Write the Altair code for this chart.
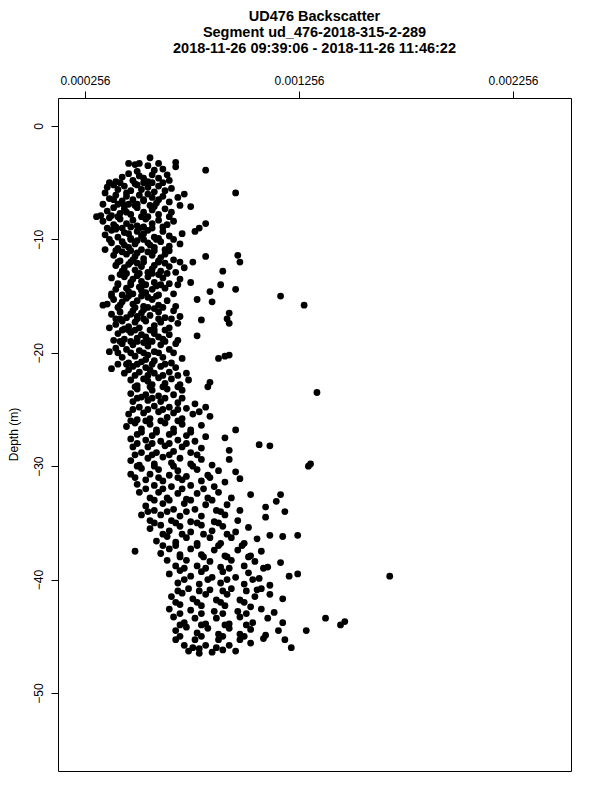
import altair as alt
import pandas as pd

title_lines = [
    "UD476 Backscatter",
    "Segment ud_476-2018-315-2-289",
    "2018-11-26 09:39:06 - 2018-11-26 11:46:22",
]
x_ticks = [0.000256, 0.001256, 0.002256]
y_ticks = [0, -10, -20, -30, -40, -50]

backscatter = [
    0.00056, 0.00046, 0.00049, 0.00051, 0.00055, 0.00060, 0.00068, 0.00068, 0.00082, 0.00062, 0.00058,
    0.00043, 0.00046, 0.00050, 0.00053, 0.00057, 0.00060, 0.00064, 0.00065, 0.00040, 0.00048, 0.00055, 0.00051,
    0.00036, 0.00039, 0.00041, 0.00044, 0.00047, 0.00050, 0.00052, 0.00055, 0.00058, 0.00060, 0.00063, 0.00066, 0.00096, 0.00035, 0.00045, 0.00042, 0.00049, 0.00057,
    0.00037, 0.00040, 0.00043, 0.00045, 0.00048, 0.00051, 0.00053, 0.00057, 0.00059, 0.00062, 0.00065, 0.00069, 0.00072, 0.00034, 0.00050, 0.00041, 0.00046, 0.00055,
    0.00033, 0.00036, 0.00039, 0.00042, 0.00044, 0.00047, 0.00050, 0.00053, 0.00057, 0.00060, 0.00063, 0.00066, 0.00075, 0.00031, 0.00038, 0.00045, 0.00052, 0.00058,
    0.00034, 0.00037, 0.00039, 0.00042, 0.00045, 0.00048, 0.00050, 0.00054, 0.00057, 0.00060, 0.00064, 0.00067, 0.00082, 0.00079, 0.00040, 0.00047, 0.00053, 0.00062,
    0.00035, 0.00038, 0.00041, 0.00044, 0.00047, 0.00050, 0.00052, 0.00055, 0.00058, 0.00062, 0.00065, 0.00071, 0.00077, 0.00040, 0.00046, 0.00053, 0.00060,
    0.00038, 0.00041, 0.00043, 0.00046, 0.00049, 0.00052, 0.00055, 0.00058, 0.00061, 0.00065, 0.00070, 0.00040, 0.00035, 0.00044, 0.00050, 0.00056, 0.00063,
    0.00039, 0.00042, 0.00045, 0.00048, 0.00050, 0.00053, 0.00057, 0.00060, 0.00063, 0.00067, 0.00097, 0.00082, 0.00076, 0.00043, 0.00049, 0.00055, 0.00061,
    0.00040, 0.00043, 0.00046, 0.00049, 0.00052, 0.00055, 0.00058, 0.00061, 0.00065, 0.00068, 0.00098, 0.00090, 0.00072, 0.00044, 0.00050, 0.00057, 0.00063,
    0.00038, 0.00041, 0.00044, 0.00047, 0.00050, 0.00052, 0.00055, 0.00058, 0.00062, 0.00065, 0.00070, 0.00089, 0.00075, 0.00042, 0.00048, 0.00054, 0.00060,
    0.00040, 0.00043, 0.00045, 0.00048, 0.00051, 0.00054, 0.00057, 0.00060, 0.00063, 0.00067, 0.00096, 0.00084, 0.00046, 0.00052, 0.00059, 0.00038,
    0.00036, 0.00039, 0.00042, 0.00045, 0.00048, 0.00050, 0.00053, 0.00057, 0.00060, 0.00064, 0.00068, 0.00117, 0.00128, 0.00078, 0.00085, 0.00043, 0.00055, 0.00034,
    0.00042, 0.00045, 0.00048, 0.00050, 0.00053, 0.00056, 0.00060, 0.00063, 0.00067, 0.00070, 0.00093, 0.00092, 0.00038, 0.00047, 0.00052, 0.00058, 0.00040,
    0.00040, 0.00043, 0.00046, 0.00049, 0.00051, 0.00054, 0.00058, 0.00061, 0.00065, 0.00069, 0.00093, 0.00080, 0.00044, 0.00050, 0.00056, 0.00037,
    0.00041, 0.00044, 0.00047, 0.00050, 0.00052, 0.00055, 0.00058, 0.00062, 0.00065, 0.00069, 0.00078, 0.00039, 0.00049, 0.00054, 0.00060,
    0.00040, 0.00043, 0.00045, 0.00048, 0.00051, 0.00055, 0.00058, 0.00061, 0.00065, 0.00068, 0.00037, 0.00047, 0.00053,
    0.00043, 0.00046, 0.00049, 0.00052, 0.00055, 0.00058, 0.00062, 0.00066, 0.00071, 0.00091, 0.00093, 0.00088, 0.00041, 0.00054,
    0.00038, 0.00044, 0.00048, 0.00051, 0.00054, 0.00058, 0.00061, 0.00065, 0.00068, 0.00073, 0.00046, 0.00056,
    0.00047, 0.00050, 0.00053, 0.00057, 0.00060, 0.00063, 0.00066, 0.00070, 0.00074, 0.00084, 0.00055,
    0.00047, 0.00050, 0.00054, 0.00057, 0.00060, 0.00064, 0.00067, 0.00071, 0.00083, 0.00134, 0.00052,
    0.00048, 0.00051, 0.00055, 0.00058, 0.00061, 0.00065, 0.00069, 0.00073, 0.00077, 0.00082,
    0.00046, 0.00050, 0.00053, 0.00056, 0.00060, 0.00064, 0.00067, 0.00071, 0.00076, 0.00084, 0.00079,
    0.00045, 0.00049, 0.00052, 0.00056, 0.00059, 0.00063, 0.00067, 0.00071, 0.00075, 0.00080, 0.00096,
    0.00047, 0.00050, 0.00054, 0.00057, 0.00061, 0.00065, 0.00069, 0.00073, 0.00077, 0.00082, 0.00091,
    0.00048, 0.00052, 0.00055, 0.00059, 0.00063, 0.00067, 0.00071, 0.00075, 0.00080, 0.00107, 0.00112, 0.00093,
    0.00047, 0.00051, 0.00055, 0.00058, 0.00062, 0.00066, 0.00070, 0.00075, 0.00080, 0.00085, 0.00093, 0.00131, 0.00130,
    0.00047, 0.00052, 0.00056, 0.00060, 0.00065, 0.00069, 0.00073, 0.00078, 0.00083, 0.00088, 0.00096,
    0.00050, 0.00054, 0.00058, 0.00062, 0.00066, 0.00071, 0.00075, 0.00080, 0.00086, 0.00091, 0.00098,
    0.00051, 0.00056, 0.00060, 0.00064, 0.00069, 0.00073, 0.00078, 0.00083, 0.00088, 0.00094, 0.00103, 0.00117,
    0.00054, 0.00058, 0.00062, 0.00067, 0.00072, 0.00077, 0.00082, 0.00087, 0.00092, 0.00098, 0.00110, 0.00115,
    0.00052, 0.00056, 0.00061, 0.00066, 0.00070, 0.00075, 0.00080, 0.00086, 0.00091, 0.00097, 0.00110, 0.00119,
    0.00056, 0.00061, 0.00065, 0.00070, 0.00075, 0.00080, 0.00085, 0.00090, 0.00096, 0.00102,
    0.00059, 0.00064, 0.00068, 0.00073, 0.00078, 0.00084, 0.00089, 0.00094, 0.00100, 0.00106, 0.00112, 0.00118, 0.00125, 0.00062,
    0.00049, 0.00061, 0.00065, 0.00070, 0.00075, 0.00080, 0.00086, 0.00091, 0.00097, 0.00103, 0.00108,
    0.00064, 0.00068, 0.00073, 0.00078, 0.00084, 0.00089, 0.00094, 0.00100, 0.00105, 0.00117, 0.00111,
    0.00065, 0.00070, 0.00075, 0.00080, 0.00085, 0.00090, 0.00096, 0.00102, 0.00107, 0.00121, 0.00125, 0.00168,
    0.00069, 0.00074, 0.00079, 0.00084, 0.00089, 0.00094, 0.00100, 0.00106, 0.00112, 0.00108,
    0.00066, 0.00071, 0.00076, 0.00082, 0.00087, 0.00092, 0.00098, 0.00105, 0.00112, 0.00118,
    0.00065, 0.00070, 0.00075, 0.00080, 0.00086, 0.00091, 0.00097, 0.00103, 0.00108, 0.00114,
    0.00067, 0.00072, 0.00077, 0.00082, 0.00087, 0.00093, 0.00098, 0.00104, 0.00111, 0.00118, 0.00138, 0.00147, 0.00145,
    0.00068, 0.00073, 0.00078, 0.00083, 0.00088, 0.00093, 0.00098, 0.00103, 0.00110, 0.00116, 0.00129,
    0.00068, 0.00072, 0.00077, 0.00082, 0.00088, 0.00093, 0.00098, 0.00103, 0.00109, 0.00119, 0.00122,
    0.00074, 0.00079, 0.00085, 0.00090, 0.00096, 0.00079,
]

depth = [
    -2.8, -3.3, -3.4, -3.3, -3.5, -3.3, -3.2, -3.6, -3.9, -3.8, -3.9,
    -4.5, -4.2, -4.0, -4.6, -4.3, -4.6, -4.3, -4.8, -4.9, -4.8, -4.9, -4.4,
    -5.4, -5.2, -5.6, -5.3, -5.7, -5.2, -5.6, -5.4, -5.8, -5.3, -5.7, -5.5, -5.9, -5.9, -5.9, -5.0, -5.1, -5.0,
    -6.4, -6.1, -6.6, -6.2, -6.5, -6.1, -6.6, -6.3, -6.8, -6.2, -6.7, -6.3, -6.0, -6.9, -6.9, -6.9, -6.9, -6.0,
    -7.9, -7.5, -7.2, -7.7, -7.3, -7.8, -7.2, -7.6, -7.4, -7.8, -7.3, -7.6, -7.1, -8.0, -7.9, -7.6, -8.0, -7.1,
    -8.4, -8.1, -8.7, -8.2, -8.6, -8.3, -8.8, -8.2, -8.6, -8.3, -8.7, -8.4, -8.6, -9.0, -8.9, -8.9, -8.9, -8.9,
    -9.6, -9.2, -9.8, -9.4, -9.9, -9.3, -9.7, -9.2, -9.8, -9.3, -9.7, -9.5, -9.3, -9.1, -9.5, -9.5, -9.9,
    -10.3, -10.8, -10.2, -10.7, -10.4, -10.9, -10.3, -10.7, -10.2, -10.6, -10.4, -11.0, -10.9, -10.5, -10.1, -10.5, -10.9,
    -11.4, -11.9, -11.3, -11.8, -11.2, -11.7, -11.4, -11.9, -11.3, -11.8, -11.4, -11.5, -12.0, -11.1, -11.5, -11.1, -11.6,
    -12.3, -12.8, -12.2, -12.7, -12.4, -12.9, -12.3, -12.8, -12.4, -12.9, -12.0, -12.8, -12.5, -12.5, -12.1, -12.6, -12.1,
    -13.4, -13.9, -13.3, -13.8, -13.2, -13.7, -13.3, -13.8, -13.4, -13.9, -13.5, -14.0, -13.8, -13.1, -13.5, -14.0, -13.1,
    -14.4, -14.9, -14.3, -14.8, -14.2, -14.7, -14.4, -14.9, -14.3, -14.8, -14.4, -14.6, -14.6, -14.5, -14.1, -14.8,
    -15.7, -15.3, -15.8, -15.2, -15.7, -15.4, -15.9, -15.3, -15.8, -15.4, -15.9, -15.0, -15.8, -15.3, -15.5, -15.5, -15.1, -15.8,
    -16.4, -16.9, -16.3, -16.8, -16.2, -16.7, -16.4, -16.9, -16.3, -16.8, -16.5, -17.0, -16.6, -16.6, -16.5, -16.1, -17.0,
    -17.5, -17.2, -17.7, -17.3, -17.8, -17.2, -17.6, -17.3, -17.8, -17.4, -17.4, -17.1, -17.9, -17.0, -18.0, -17.8,
    -18.3, -18.8, -18.2, -18.7, -18.4, -18.9, -18.3, -18.8, -18.4, -18.9, -18.5, -18.9, -18.0, -18.6, -18.6,
    -19.6, -19.2, -19.7, -19.3, -19.8, -19.4, -19.9, -19.3, -19.7, -19.2, -19.9, -19.0, -19.1,
    -20.4, -20.9, -20.3, -20.8, -20.2, -20.7, -20.4, -20.9, -20.5, -20.3, -20.2, -20.5, -21.0, -20.6,
    -21.4, -21.8, -21.2, -21.7, -21.3, -21.8, -21.2, -21.7, -21.3, -21.8, -21.5, -21.5,
    -22.4, -22.9, -22.3, -22.8, -22.2, -22.7, -22.3, -22.8, -22.4, -22.6, -22.5,
    -23.6, -23.2, -23.7, -23.3, -23.8, -23.2, -23.7, -23.3, -23.0, -23.5, -23.9,
    -24.3, -24.8, -24.2, -24.7, -24.3, -24.8, -24.4, -24.9, -24.5, -24.8,
    -25.4, -25.9, -25.3, -25.8, -25.2, -25.7, -25.3, -25.8, -25.4, -25.6, -25.2,
    -26.5, -26.2, -26.7, -26.3, -26.8, -26.2, -26.7, -26.3, -26.8, -26.4, -26.8,
    -27.6, -27.2, -27.7, -27.3, -27.8, -27.2, -27.7, -27.3, -27.8, -27.4, -27.5,
    -28.3, -28.8, -28.3, -28.8, -28.2, -28.7, -28.3, -28.8, -28.4, -28.1, -28.2, -28.6,
    -29.5, -29.9, -29.3, -29.8, -29.2, -29.7, -29.3, -29.8, -29.4, -29.9, -29.4, -29.8, -30.0,
    -30.7, -30.2, -30.7, -30.3, -30.8, -30.4, -30.9, -30.3, -30.8, -30.4, -30.5,
    -31.6, -31.2, -31.7, -31.3, -31.8, -31.2, -31.7, -31.3, -31.8, -31.4, -31.1,
    -32.3, -32.8, -32.3, -32.8, -32.4, -32.9, -32.4, -32.8, -32.3, -32.8, -32.5, -32.5,
    -33.5, -33.9, -33.3, -33.8, -33.3, -33.8, -33.4, -33.9, -33.4, -33.9, -33.6, -33.1,
    -34.3, -34.8, -34.3, -34.8, -34.4, -34.9, -34.4, -34.9, -34.3, -34.8, -34.5, -34.0,
    -35.5, -35.2, -35.7, -35.3, -35.8, -35.2, -35.7, -35.3, -35.8, -35.4,
    -36.6, -36.2, -36.7, -36.3, -36.8, -36.3, -36.8, -36.3, -36.8, -36.4, -36.1, -36.2, -36.1, -37.0,
    -37.5, -37.7, -37.3, -37.8, -37.3, -37.8, -37.4, -37.9, -37.4, -37.9, -37.5,
    -38.3, -38.8, -38.3, -38.8, -38.4, -38.9, -38.3, -38.8, -38.4, -38.5, -38.9,
    -39.5, -39.2, -39.7, -39.3, -39.8, -39.3, -39.8, -39.4, -39.9, -39.7, -39.5, -39.7,
    -40.3, -40.8, -40.4, -40.9, -40.3, -40.8, -40.4, -40.9, -40.5, -40.8,
    -41.5, -41.2, -41.7, -41.3, -41.8, -41.3, -41.8, -41.5, -41.3, -41.7,
    -42.6, -42.2, -42.7, -42.3, -42.8, -42.3, -42.8, -42.4, -42.6, -42.9,
    -43.3, -43.8, -43.4, -43.9, -43.4, -43.9, -43.3, -43.8, -43.4, -43.8, -43.4, -43.7, -44.0,
    -44.5, -44.2, -44.7, -44.3, -44.8, -44.3, -44.8, -44.4, -44.9, -44.5, -44.5,
    -45.3, -45.8, -45.3, -45.8, -45.3, -45.8, -45.3, -45.6, -45.2, -45.3, -46.0,
    -46.3, -46.1, -46.4, -46.2, -46.3, -46.5,
]

# additional pings filling the dense core of the cloud
backscatter_core = [
    0.00037, 0.00053, 0.00062,
    0.00039, 0.00053, 0.00060,
    0.00044, 0.00049, 0.00056, 0.00070,
    0.00041, 0.00055, 0.00065,
    0.00036, 0.00043, 0.00051, 0.00057,
    0.00037, 0.00047, 0.00053, 0.00059, 0.00067,
    0.00047, 0.00058, 0.00065,
    0.00041, 0.00047, 0.00053, 0.00060, 0.00070,
    0.00045, 0.00051, 0.00057, 0.00064,
    0.00041, 0.00047, 0.00053, 0.00061, 0.00069,
    0.00038, 0.00046, 0.00052, 0.00059,
    0.00041, 0.00049, 0.00055, 0.00062,
    0.00042, 0.00053, 0.00060, 0.00066,
    0.00043, 0.00046, 0.00058, 0.00063,
    0.00042, 0.00050, 0.00057, 0.00063,
    0.00041, 0.00047, 0.00053, 0.00060, 0.00067,
    0.00045, 0.00050, 0.00057, 0.00063,
    0.00049, 0.00055, 0.00062, 0.00069,
    0.00049, 0.00056, 0.00062, 0.00069,
    0.00050, 0.00057, 0.00063, 0.00071,
    0.00048, 0.00055, 0.00062, 0.00069,
    0.00047, 0.00054, 0.00061, 0.00069,
    0.00052, 0.00059, 0.00067, 0.00075,
    0.00050, 0.00057, 0.00065, 0.00073,
    0.00049, 0.00057, 0.00065, 0.00078,
    0.00050, 0.00058, 0.00067, 0.00076,
    0.00049, 0.00060, 0.00069, 0.00084,
    0.00054, 0.00062, 0.00071, 0.00081,
    0.00058, 0.00065, 0.00075, 0.00085,
    0.00055, 0.00064, 0.00073, 0.00089,
    0.00058, 0.00068, 0.00078, 0.00088,
    0.00062, 0.00071, 0.00081, 0.00092,
    0.00068, 0.00078, 0.00088, 0.00099,
    0.00070, 0.00081, 0.00092, 0.00102,
    0.00072, 0.00082, 0.00093, 0.00109,
    0.00072, 0.00083, 0.00092, 0.00104,
    0.00069, 0.00079, 0.00090, 0.00101,
    0.00068, 0.00078, 0.00089, 0.00100,
    0.00070, 0.00080, 0.00090, 0.00101,
    0.00070, 0.00080, 0.00091, 0.00101,
    0.00070, 0.00080, 0.00090, 0.00100,
    0.00076, 0.00087,
]

depth_core = [
    -5.0, -5.0, -5.0,
    -6.5, -6.5, -6.5,
    -7.0, -7.0, -7.0, -7.0,
    -8.0, -8.0, -8.0,
    -9.0, -9.0, -9.0, -9.0,
    -10.0, -10.0, -10.0, -10.0, -10.0,
    -11.0, -11.0, -11.0,
    -12.0, -12.0, -12.0, -12.0, -12.0,
    -13.0, -13.0, -13.0, -13.0,
    -14.0, -14.0, -14.0, -14.0, -14.0,
    -15.0, -15.0, -15.0, -15.0,
    -16.0, -16.0, -16.0, -16.0,
    -17.0, -17.0, -17.0, -17.0,
    -18.0, -18.0, -18.0, -18.0,
    -19.0, -19.0, -19.0, -19.0,
    -20.0, -20.0, -20.0, -20.0, -20.0,
    -21.0, -21.0, -21.0, -21.0,
    -22.0, -22.0, -22.0, -22.0,
    -23.0, -23.0, -23.0, -23.0,
    -24.0, -24.0, -24.0, -24.0,
    -25.0, -25.0, -25.0, -25.0,
    -26.0, -26.0, -26.0, -26.0,
    -27.0, -27.0, -27.0, -27.0,
    -28.0, -28.0, -28.0, -28.0,
    -29.0, -29.0, -29.0, -29.0,
    -30.0, -30.0, -30.0, -30.0,
    -31.0, -31.0, -31.0, -31.0,
    -32.0, -32.0, -32.0, -32.0,
    -33.0, -33.0, -33.0, -33.0,
    -34.0, -34.0, -34.0, -34.0,
    -35.0, -35.0, -35.0, -35.0,
    -36.0, -36.0, -36.0, -36.0,
    -37.0, -37.0, -37.0, -37.0,
    -38.0, -38.0, -38.0, -38.0,
    -39.0, -39.0, -39.0, -39.0,
    -40.0, -40.0, -40.0, -40.0,
    -41.0, -41.0, -41.0, -41.0,
    -42.0, -42.0, -42.0, -42.0,
    -43.0, -43.0, -43.0, -43.0,
    -44.0, -44.0, -44.0, -44.0,
    -45.0, -45.0, -45.0, -45.0,
    -46.0, -46.0,
]

n1 = min(len(backscatter), len(depth))
n2 = min(len(backscatter_core), len(depth_core))
df = pd.DataFrame({
    "backscatter": backscatter[:n1] + backscatter_core[:n2],
    "depth": depth[:n1] + depth_core[:n2],
})

FONT = "Liberation Sans"

chart = (
    alt.Chart(df)
    .mark_circle(size=46, color="black", opacity=1)
    .encode(
        x=alt.X(
            "backscatter:Q",
            scale=alt.Scale(domain=[0.00013, 0.002527], nice=False, zero=False),
            axis=alt.Axis(
                orient="top", values=x_ticks, format=".6f", title=None, grid=False,
                domain=False, tickSize=7, tickColor="black", labelColor="black",
                labelFontSize=12, labelFont=FONT, labelPadding=4, labelFlush=False,
            ),
        ),
        y=alt.Y(
            "depth:Q",
            scale=alt.Scale(domain=[-56.88, 2.47], nice=False, zero=False),
            axis=alt.Axis(
                values=y_ticks, title="Depth (m)", grid=False, domain=False,
                tickSize=7, tickColor="black", labelColor="black", labelFontSize=12,
                labelFont=FONT, labelAngle=270, labelAlign="center",
                labelBaseline="bottom", labelPadding=6, labelFlush=False,
                titleFont=FONT, titleFontSize=12, titleFontWeight="normal",
                titleColor="black", titleX=-45, titleY=336, titleBaseline="middle",
                titleAngle=270,
            ),
        ),
    )
    .properties(
        width=513,
        height=673,
        autosize=alt.AutoSizeParams(type="none"),
        padding={"left": 50, "top": 90, "right": 21, "bottom": 21},
        title=alt.TitleParams(
            title_lines, font=FONT, fontSize=14.5, fontWeight="bold",
            color="black", anchor="middle", offset=18, lineHeight=16,
        ),
    )
    .configure_view(stroke="black", strokeWidth=1)
)

chart.save("out.html", embed_options={"renderer": "svg", "actions": False})
